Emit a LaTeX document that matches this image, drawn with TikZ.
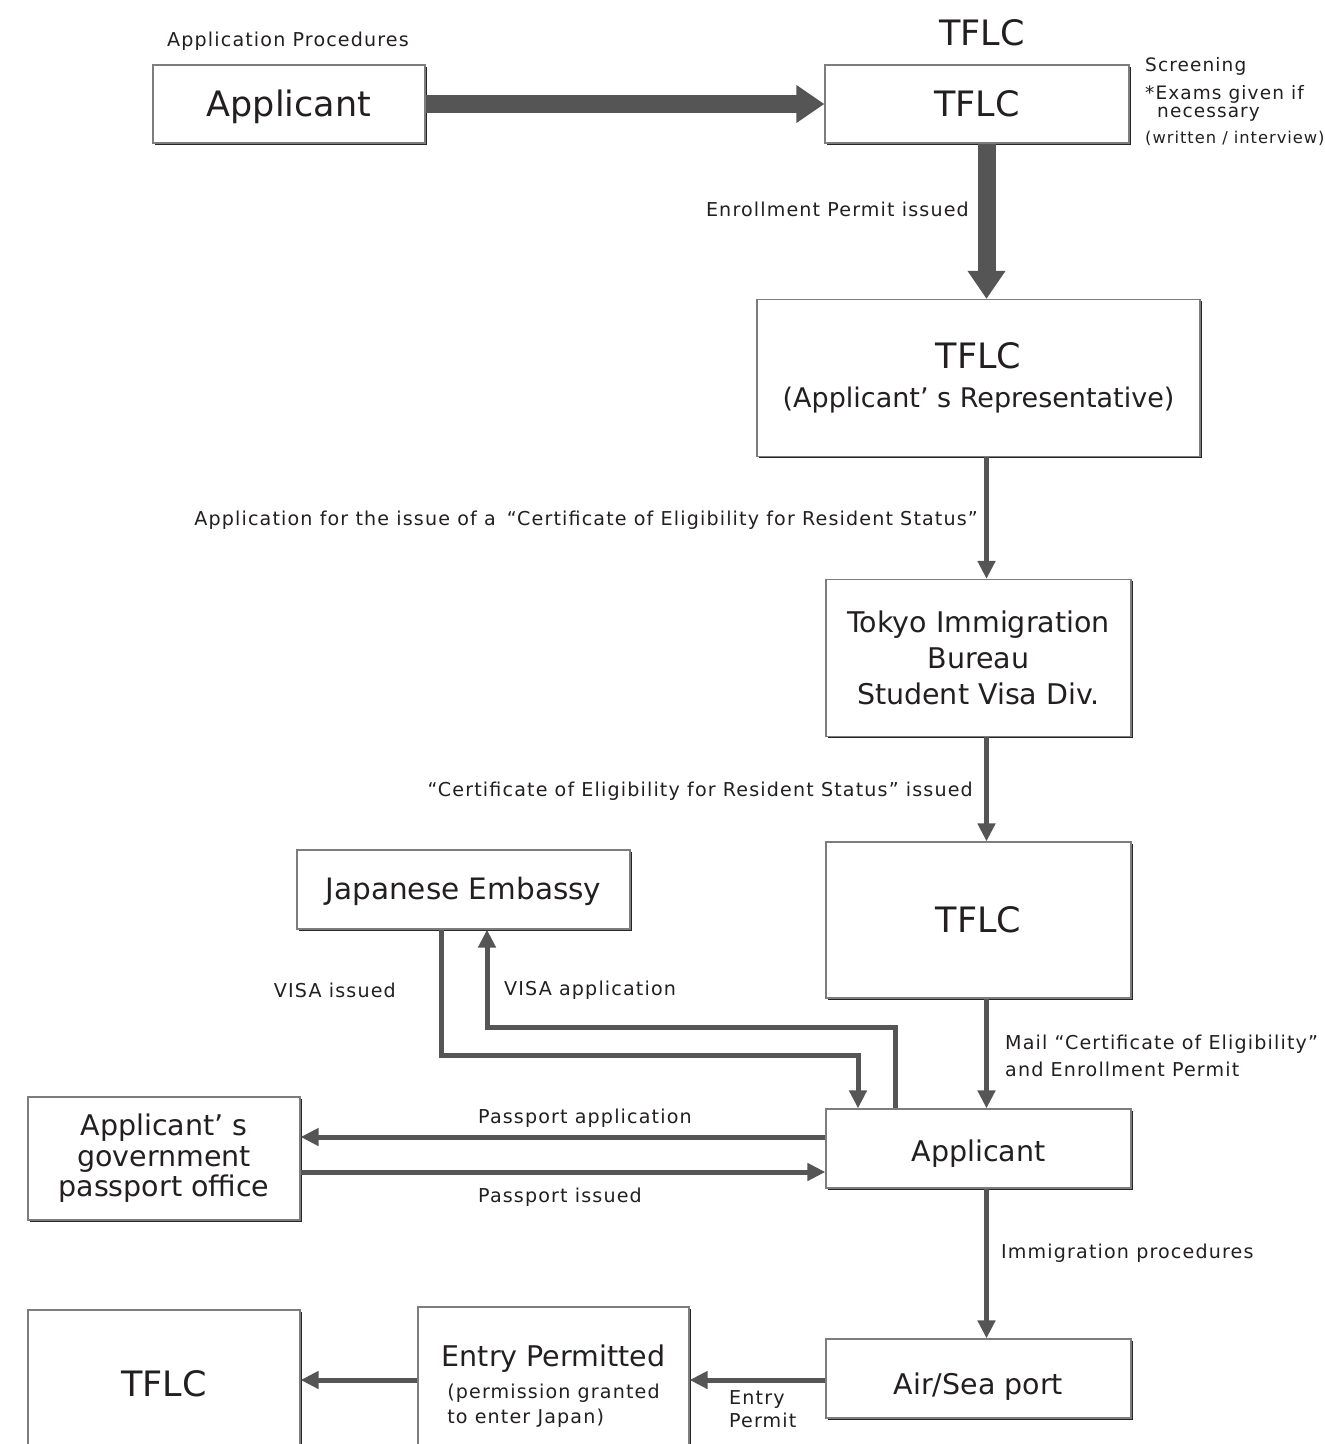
\documentclass[tikz,border=0pt]{standalone}
\usepackage{fontspec}
\setmainfont{DejaVu Sans}
\newfontfamily\smallfam[LetterSpace=6]{DejaVu Sans}
\newcommand\smallf{\smallfam\fontsize{19.1}{25}\selectfont}
\newcommand\scrf{\smallfam\fontsize{18.5}{20}\selectfont}
\newcommand\tinyf{\smallfam\fontsize{16.3}{18}\selectfont}
\newcommand\medf{\fontsize{28.5}{36}\selectfont}
\newcommand\bigf{\fontsize{35}{42}\selectfont}
\usetikzlibrary{arrows.meta,shadows}
\definecolor{arr}{RGB}{85,85,85}
\definecolor{txt}{RGB}{35,31,32}
\definecolor{bord}{RGB}{125,125,125}
\tikzset{
 box/.style={draw=bord, line width=1.2pt, fill=white, inner sep=0pt, align=center, text=txt,
   drop shadow={shadow xshift=1.6pt, shadow yshift=-1.6pt, fill=black!85, opacity=1}},
 bigone/.style={font=\bigf, text height=32pt, text depth=7pt},
 medone/.style={font=\medf, text height=26.6pt, text depth=6pt},
 lbl/.style={inner sep=0pt, text=txt, font=\smallf},
 thickarrow/.style={draw=arr, line width=18pt, -{Triangle[length=28pt,width=36pt]}},
 thinarrow/.style={draw=arr, line width=5pt, line join=miter, -{Triangle[length=18pt,width=17pt]}},
}
\begin{document}
\begin{tikzpicture}[x=1pt,y=-1pt]
\clip (0,0) rectangle (1325,1444);
\fill[white] (0,0) rectangle (1325,1444);

% boxes
\node[box, bigone, minimum width=272pt, minimum height=78pt] (app1) at (289,104) {Applicant};
\node[box, bigone, minimum width=304pt, minimum height=78pt] (tflc1) at (977,104) {TFLC};
\node[box, minimum width=443pt, minimum height=157pt, font=\fontsize{27}{39}\selectfont] (tflc2) at (978.5,378) {{\bigf TFLC}\\(Applicant’ s Representative)};
\node[box, minimum width=305pt, minimum height=157pt, font=\medf] (tokyo) at (978.5,658) {Tokyo Immigration\\Bureau\\Student Visa Div.};
\node[box, bigone, minimum width=305pt, minimum height=156pt] (tflc3) at (978.5,920) {TFLC};
\node[box, medone, minimum width=333pt, minimum height=79pt, font=\fontsize{29.5}{36}\selectfont] (emb) at (463.5,889.5) {Japanese Embassy};
\node[box, medone, minimum width=305pt, minimum height=79pt, text height=31.6pt] (app2) at (978.5,1148.5) {Applicant};
\node[box, minimum width=272pt, minimum height=123pt, font=\fontsize{28.5}{30.5}\selectfont] (pass) at (164,1158.5) {Applicant’ s\\government\\passport office};
\node[box, medone, minimum width=305pt, minimum height=79pt, text height=31.6pt, text depth=0pt] (air) at (978.5,1378.5) {Air/Sea port};
\node[box, minimum width=271pt, minimum height=162pt, font=\medf] (entry) at (553.5,1388) {Entry Permitted\\[-4pt]{\smallf\begin{tabular}[t]{@{}l@{}}(permission granted\\to enter Japan)\end{tabular}}};
\node[box, bigone, minimum width=272pt, minimum height=148pt] (tflc4) at (164,1384) {TFLC};

% helper coordinates
\coordinate (c) at (986.5,0);
\coordinate (vaR) at (895,1027);
\coordinate (vaL) at (487,1027);
\coordinate (viL) at (441,1055);
\coordinate (viR) at (858,1055);
\coordinate (pa) at (0,1137);
\coordinate (pi) at (0,1172);
\coordinate (ep) at (0,1380);

% arrows
\draw[thickarrow] (app1.east) -- (tflc1.west);
\draw[thickarrow] (c |- tflc1.south) -- (c |- tflc2.north);
\draw[thinarrow] (c |- tflc2.south) -- (c |- tokyo.north);
\draw[thinarrow] (c |- tokyo.south) -- (c |- tflc3.north);
\draw[thinarrow] (c |- tflc3.south) -- (c |- app2.north);
\draw[thinarrow] (c |- app2.south) -- (c |- air.north);
\draw[thinarrow] (vaR |- app2.north) -- (vaR) -- (vaL) -- (vaL |- emb.south);
\draw[thinarrow] (viL |- emb.south) -- (viL) -- (viR) -- (viR |- app2.north);
\draw[thinarrow] (app2.west |- pa) -- (pass.east |- pa);
\draw[thinarrow] (pass.east |- pi) -- (app2.west |- pi);
\draw[thinarrow] (air.west |- ep) -- (entry.east |- ep);
\draw[thinarrow] (entry.west |- ep) -- (tflc4.east |- ep);

% labels
\node[lbl] (lproc) at (288,41) {Application Procedures};
\node[inner sep=0pt, text=txt, font=\bigf] (ltitle) at (982,33) {TFLC};
\node[lbl, anchor=west, font=\scrf] (lscr) at (1145,66) {Screening};
\node[lbl, anchor=west, font=\scrf] (lexam) at (1145,94) {*Exams given if};
\node[lbl, anchor=west, font=\scrf] (lnec) at (1157,114) {necessary};
\node[lbl, anchor=west, font=\tinyf] (lwrit) at (1145,138) {(written / interview)};
\node[lbl, anchor=east] (lenr) at (969,209) {Enrollment Permit issued};
\node[lbl, anchor=east] (lappl) at (978,520) {Application for the issue of a \kern0.2em“Certificate of Eligibility for Resident Status”};
\node[lbl, anchor=east] (lcert) at (973,791) {“Certificate of Eligibility for Resident Status” issued};
\node[lbl, anchor=west] (lmail1) at (1005,1044) {Mail “Certificate of Eligibility”};
\node[lbl, anchor=west] (lmail2) at (1005,1069) {and Enrollment Permit};
\node[lbl, anchor=east] (lvisai) at (396,990) {VISA issued};
\node[lbl, anchor=west] (lvisaa) at (504,990) {VISA application};
\node[lbl, anchor=west] (lpassa) at (478,1118) {Passport application};
\node[lbl, anchor=west] (lpassi) at (478,1197) {Passport issued};
\node[lbl, anchor=west] (limm) at (1001,1253) {Immigration procedures};
\node[lbl, anchor=west] (lentry1) at (729,1400) {Entry};
\node[lbl, anchor=west] (lentry2) at (729,1420) {Permit};
\end{tikzpicture}
\end{document}
